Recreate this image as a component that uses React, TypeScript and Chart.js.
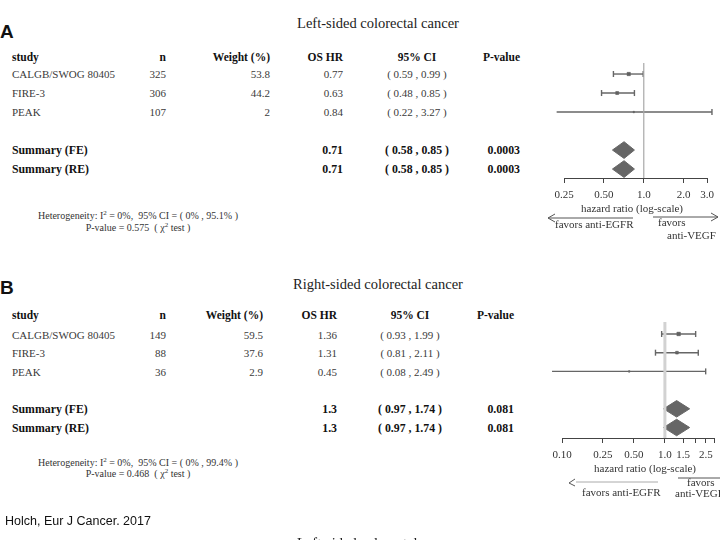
import React, { useEffect, useRef } from 'react';
import { Chart, registerables } from 'chart.js';

Chart.register(...registerables);

// ---------- data ----------
const studies = ['CALGB/SWOG 80405', 'FIRE-3', 'PEAK'];

const leftN = [325, 306, 107];
const leftWeight = ['53.8', '44.2', '2'];
const leftHR = [0.77, 0.63, 0.84];
const leftLo = [0.59, 0.48, 0.22];
const leftHi = [0.99, 0.85, 3.27];
const leftSumHR = 0.71;
const leftSumLo = 0.58;
const leftSumHi = 0.85;
const leftSumP = '0.0003';
const leftHetCI = '95.1%';
const leftHetP = '0.575';
const leftTicks = [0.25, 0.5, 1, 2, 3];
const leftTickLabels = ['0.25', '0.50', '1.0', '2.0', '3.0'];

const rightN = [149, 88, 36];
const rightWeight = ['59.5', '37.6', '2.9'];
const rightHR = [1.36, 1.31, 0.45];
const rightLo = [0.93, 0.81, 0.08];
const rightHi = [1.99, 2.11, 2.49];
const rightSumHR = 1.3;
const rightSumLo = 0.97;
const rightSumHi = 1.74;
const rightSumP = '0.081';
const rightHetCI = '99.4%';
const rightHetP = '0.468';
const rightTicks = [0.1, 0.25, 0.5, 1, 1.5, 2, 2.5, 3];
const rightTickLabels = ['0.10', '0.25', '0.50', '1.0', '1.5', '', '2.5', ''];

// ---------- helpers ----------
const SERIF = '"Liberation Serif", "DejaVu Serif", serif';
const SANS = '"Liberation Sans", Arial, sans-serif';

type TProps = {
  x: number;
  y: number;
  children: React.ReactNode;
  align?: 'left' | 'right' | 'center';
  size?: number;
  bold?: boolean;
  color?: string;
  family?: string;
};

function T({ x, y, children, align = 'left', size = 11, bold = false, color = '#3a3a3a', family = SERIF }: TProps) {
  const w = 400;
  const h = Math.round(size * 1.15);
  let left = x;
  if (align === 'right') left = x - w;
  if (align === 'center') left = x - w / 2;
  return (
    <div
      style={{
        position: 'absolute',
        left,
        top: y - h / 2,
        width: w,
        height: h,
        lineHeight: `${h}px`,
        fontSize: size,
        fontWeight: bold ? 'bold' : 'normal',
        fontFamily: family,
        color,
        textAlign: align,
        whiteSpace: 'pre',
      }}
    >
      {children}
    </div>
  );
}

const Sup = ({ c }: { c: string }) => (
  <span style={{ fontSize: 7, position: 'relative', top: -4 }}>{c}</span>
);

const fmtCI = (lo: number, hi: number) => `( ${lo.toFixed(2)} , ${hi.toFixed(2)} )`;

type ForestProps = {
  left: number;
  top: number;
  width: number;
  height: number;
  padL: number;
  padR: number;
  padT: number;
  padB: number;
  hr: number[];
  lo: number[];
  hi: number[];
  weight: string[];
  sumHR: number;
  sumLo: number;
  sumHi: number;
  ticks: number[];
  tickLabels: string[];
  yMin: number;
  yMax: number;
  refColor: string;
  refWidth: number;
};

function Forest(p: ForestProps) {
  const ref = useRef<HTMLCanvasElement | null>(null);
  useEffect(() => {
    if (!ref.current) return;
    const grey = '#666666';
    const datasets: any[] = [];
    datasets.push({
      type: 'line',
      data: [
        { x: 1, y: p.yMin },
        { x: 1, y: p.yMax },
      ],
      borderColor: p.refColor,
      borderWidth: p.refWidth,
      pointRadius: 0,
      clip: false,
    });
    p.hr.forEach((h, i) => {
      const row = i + 1;
      datasets.push({
        type: 'line',
        data: [
          { x: p.lo[i], y: row },
          { x: p.hi[i], y: row },
        ],
        borderColor: grey,
        borderWidth: 1.4,
        pointStyle: 'line',
        rotation: 90,
        pointRadius: 3,
        pointBorderColor: grey,
        pointBorderWidth: 1.4,
        clip: false,
      });
      datasets.push({
        type: 'scatter',
        data: [{ x: h, y: row }],
        pointStyle: 'rect',
        pointRadius: 1 + parseFloat(p.weight[i]) / 40,
        backgroundColor: '#555',
        borderColor: '#555',
        borderWidth: 0.5,
        clip: false,
      });
    });
    [5, 6].forEach((row) => {
      datasets.push({
        type: 'line',
        data: [
          { x: p.sumLo, y: row },
          { x: p.sumHR, y: row - 0.44 },
          { x: p.sumHi, y: row },
          { x: p.sumHR, y: row + 0.44 },
          { x: p.sumLo, y: row },
        ],
        borderColor: grey,
        backgroundColor: grey,
        borderWidth: 1,
        pointRadius: 0,
        fill: 'shape',
        clip: false,
      });
    });

    const chart = new Chart(ref.current, {
      type: 'scatter',
      data: { datasets },
      options: {
        animation: false,
        responsive: false,
        maintainAspectRatio: false,
        events: [],
        layout: { padding: { left: p.padL, right: p.padR, top: p.padT, bottom: p.padB } },
        plugins: { legend: { display: false }, tooltip: { enabled: false } },
        scales: {
          x: {
            type: 'logarithmic',
            min: p.ticks[0],
            max: p.ticks[p.ticks.length - 1],
            afterBuildTicks: (axis: any) => {
              axis.ticks = p.ticks.map((v) => ({ value: v }));
            },
            afterFit: (axis: any) => {
              axis.height = 24;
            },
            border: { display: true, color: '#444', width: 1 },
            grid: { display: true, drawOnChartArea: false, drawTicks: true, tickLength: 5, color: '#444' },
            ticks: {
              autoSkip: false,
              maxRotation: 0,
              minRotation: 0,
              padding: 6,
              color: '#333',
              font: { family: 'Liberation Serif', size: 11 },
              callback: (_v: any, i: number) => p.tickLabels[i],
            },
          },
          y: {
            type: 'linear',
            display: false,
            reverse: true,
            min: p.yMin,
            max: p.yMax,
          },
        },
      } as any,
    });
    return () => chart.destroy();
  }, []);
  return (
    <canvas
      ref={ref}
      width={p.width}
      height={p.height}
      style={{ position: 'absolute', left: p.left, top: p.top, width: p.width, height: p.height }}
    />
  );
}

type PanelProps = {
  letter: string;
  title: string;
  n: number[];
  weight: string[];
  hr: number[];
  lo: number[];
  hi: number[];
  sumHR: number;
  sumLo: number;
  sumHi: number;
  sumP: string;
  hetCI: string;
  hetP: string;
  cols: { n: number; w: number; hr: number; ci: number; p: number };
  rowsY: number[];
  headerY: number;
  sumY: number[];
  hetY: number[];
  titleY: number;
  letterY: number;
};

function Table(p: PanelProps) {
  const c = p.cols;
  return (
    <>
      <T x={0} y={p.letterY} size={19} bold family={SANS} color="#111">
        {p.letter}
      </T>
      <T x={378} y={p.titleY} size={14.5} align="center" color="#222">
        {p.title}
      </T>
      <T x={12} y={p.headerY} bold size={11.5} color="#111">study</T>
      <T x={c.n} y={p.headerY} bold size={11.5} align="right" color="#111">n</T>
      <T x={c.w} y={p.headerY} bold size={11.5} align="right" color="#111">Weight (%)</T>
      <T x={c.hr} y={p.headerY} bold size={11.5} align="right" color="#111">OS HR</T>
      <T x={c.ci} y={p.headerY} bold size={11.5} align="center" color="#111">95% CI</T>
      <T x={c.p} y={p.headerY} bold size={11.5} align="right" color="#111">P-value</T>
      {studies.map((s, i) => (
        <React.Fragment key={s}>
          <T x={12} y={p.rowsY[i]}>{s}</T>
          <T x={c.n} y={p.rowsY[i]} align="right">{String(p.n[i])}</T>
          <T x={c.w} y={p.rowsY[i]} align="right">{p.weight[i]}</T>
          <T x={c.hr} y={p.rowsY[i]} align="right">{String(p.hr[i])}</T>
          <T x={c.ci} y={p.rowsY[i]} align="center">{fmtCI(p.lo[i], p.hi[i])}</T>
        </React.Fragment>
      ))}
      {['Summary (FE)', 'Summary (RE)'].map((s, i) => (
        <React.Fragment key={s}>
          <T x={12} y={p.sumY[i]} bold size={11.8} color="#111">{s}</T>
          <T x={c.hr} y={p.sumY[i]} bold size={11.8} align="right" color="#111">{String(p.sumHR)}</T>
          <T x={c.ci} y={p.sumY[i]} bold size={11.8} align="center" color="#111">{fmtCI(p.sumLo, p.sumHi)}</T>
          <T x={c.p} y={p.sumY[i]} bold size={11.8} align="right" color="#111">{p.sumP}</T>
        </React.Fragment>
      ))}
      <T x={138} y={p.hetY[0]} align="center" size={10} color="#333">
        {'Heterogeneity: I'}<Sup c="2" />{` = 0%,  95% CI = ( 0% , ${p.hetCI} )`}
      </T>
      <T x={138} y={p.hetY[1]} align="center" size={10} color="#333">
        {`P-value = ${p.hetP}  ( χ`}<Sup c="2" />{' test )'}
      </T>
    </>
  );
}

export default function App() {
  useEffect(() => {
    document.body.style.margin = '0';
  }, []);
  return (
    <div
      style={{
        position: 'absolute',
        left: 0,
        top: 0,
        width: 720,
        height: 540,
        overflow: 'hidden',
        background: '#ffffff',
      }}
    >
      {/* Panel A */}
      <Table
        letter="A"
        title="Left-sided colorectal cancer"
        n={leftN}
        weight={leftWeight}
        hr={leftHR}
        lo={leftLo}
        hi={leftHi}
        sumHR={leftSumHR}
        sumLo={leftSumLo}
        sumHi={leftSumHi}
        sumP={leftSumP}
        hetCI={leftHetCI}
        hetP={leftHetP}
        cols={{ n: 166, w: 270, hr: 343, ci: 417, p: 520 }}
        headerY={57}
        rowsY={[74, 93, 112]}
        sumY={[150, 169]}
        hetY={[216, 228]}
        titleY={23}
        letterY={32}
      />
      <Forest
        left={520}
        top={50}
        width={200}
        height={160}
        padL={44}
        padR={13}
        padT={13}
        padB={8}
        hr={leftHR}
        lo={leftLo}
        hi={leftHi}
        weight={leftWeight}
        sumHR={leftSumHR}
        sumLo={leftSumLo}
        sumHi={leftSumHi}
        ticks={leftTicks}
        tickLabels={leftTickLabels}
        yMin={0.42}
        yMax={6.47}
        refColor="#a8a8a8"
        refWidth={1.2}
      />
      <T x={632} y={208} align="center" size={11} color="#333">hazard ratio (log-scale)</T>
      <T x={555} y={224} size={11} color="#333">favors anti-EGFR</T>
      <T x={658} y={222} size={11} color="#333">favors</T>
      <T x={667} y={235} size={11} color="#333">anti-VEGF</T>

      {/* Panel B */}
      <Table
        letter="B"
        title="Right-sided colorectal cancer"
        n={rightN}
        weight={rightWeight}
        hr={rightHR}
        lo={rightLo}
        hi={rightHi}
        sumHR={rightSumHR}
        sumLo={rightSumLo}
        sumHi={rightSumHi}
        sumP={rightSumP}
        hetCI={rightHetCI}
        hetP={rightHetP}
        cols={{ n: 166, w: 263, hr: 337, ci: 410, p: 514 }}
        headerY={315}
        rowsY={[335, 353, 372]}
        sumY={[409, 428]}
        hetY={[463, 474]}
        titleY={284}
        letterY={288}
      />
      <Forest
        left={520}
        top={310}
        width={200}
        height={160}
        padL={42}
        padR={0}
        padT={12}
        padB={8}
        hr={rightHR}
        lo={rightLo}
        hi={rightHi}
        weight={rightWeight}
        sumHR={rightSumHR}
        sumLo={rightSumLo}
        sumHi={rightSumHi}
        ticks={rightTicks}
        tickLabels={rightTickLabels}
        yMin={0.36}
        yMax={6.56}
        refColor="#d2d2d2"
        refWidth={3}
      />
      <T x={645} y={468} align="center" size={11} color="#333">hazard ratio (log-scale)</T>
      <T x={582} y={492} size={11} color="#333">favors anti-EGFR</T>
      <T x={687} y={482} size={11} color="#333">favors</T>
      <T x={675} y={493} size={11} color="#333">anti-VEGF</T>

      <svg
        width={720}
        height={540}
        style={{ position: 'absolute', left: 0, top: 0, pointerEvents: 'none' }}
      >
        <g stroke="#555" strokeWidth={1} fill="none">
          <line x1={548} y1={218} x2={633} y2={218} />
          <polyline points="555,214 548,218 555,222" />
          <line x1={653} y1={217} x2={718} y2={217} />
          <polyline points="711,213 718,217 711,221" />
          <line x1={576} y1={482} x2={658} y2={482} stroke="#aaa" />
          <polyline points="575,479 569,483 575,486" />
          <line x1={678} y1={478} x2={720} y2={478} />
        </g>
      </svg>

      <T x={5} y={521} size={12.5} family={SANS} color="#111">Holch, Eur J Cancer. 2017</T>
      <T x={378} y={543} size={14.5} align="center" color="#222">Left-sided colorectal cancer</T>
    </div>
  );
}
